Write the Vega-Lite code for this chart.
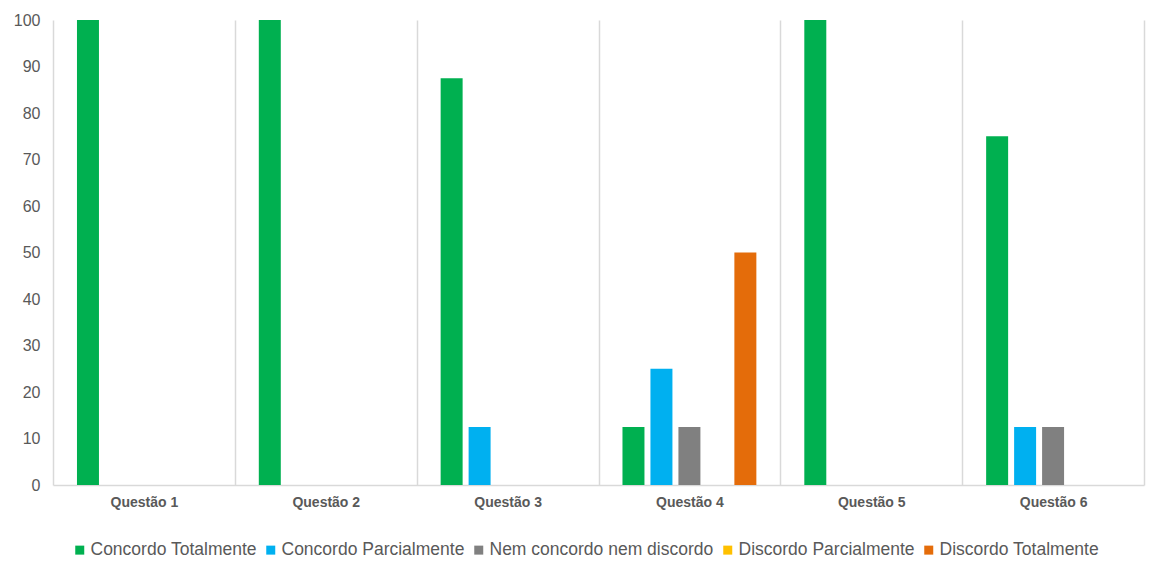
{
  "$schema": "https://vega.github.io/schema/vega-lite/v6.json",
  "autosize": {"type": "none"},
  "padding": {"left": 53, "top": 20, "right": 17, "bottom": 87},
  "width": 1091,
  "height": 465,
  "background": "white",
  "config": {
    "font": "Liberation Sans",
    "view": {"stroke": null}
  },
  "data": {
    "values": [
      {"q": "Questão 1", "s": "Concordo Totalmente", "v": 100},
      {"q": "Questão 1", "s": "Concordo Parcialmente", "v": 0},
      {"q": "Questão 1", "s": "Nem concordo nem discordo", "v": 0},
      {"q": "Questão 1", "s": "Discordo Parcialmente", "v": 0},
      {"q": "Questão 1", "s": "Discordo Totalmente", "v": 0},
      {"q": "Questão 2", "s": "Concordo Totalmente", "v": 100},
      {"q": "Questão 2", "s": "Concordo Parcialmente", "v": 0},
      {"q": "Questão 2", "s": "Nem concordo nem discordo", "v": 0},
      {"q": "Questão 2", "s": "Discordo Parcialmente", "v": 0},
      {"q": "Questão 2", "s": "Discordo Totalmente", "v": 0},
      {"q": "Questão 3", "s": "Concordo Totalmente", "v": 87.5},
      {"q": "Questão 3", "s": "Concordo Parcialmente", "v": 12.5},
      {"q": "Questão 3", "s": "Nem concordo nem discordo", "v": 0},
      {"q": "Questão 3", "s": "Discordo Parcialmente", "v": 0},
      {"q": "Questão 3", "s": "Discordo Totalmente", "v": 0},
      {"q": "Questão 4", "s": "Concordo Totalmente", "v": 12.5},
      {"q": "Questão 4", "s": "Concordo Parcialmente", "v": 25},
      {"q": "Questão 4", "s": "Nem concordo nem discordo", "v": 12.5},
      {"q": "Questão 4", "s": "Discordo Parcialmente", "v": 0},
      {"q": "Questão 4", "s": "Discordo Totalmente", "v": 50},
      {"q": "Questão 5", "s": "Concordo Totalmente", "v": 100},
      {"q": "Questão 5", "s": "Concordo Parcialmente", "v": 0},
      {"q": "Questão 5", "s": "Nem concordo nem discordo", "v": 0},
      {"q": "Questão 5", "s": "Discordo Parcialmente", "v": 0},
      {"q": "Questão 5", "s": "Discordo Totalmente", "v": 0},
      {"q": "Questão 6", "s": "Concordo Totalmente", "v": 75},
      {"q": "Questão 6", "s": "Concordo Parcialmente", "v": 12.5},
      {"q": "Questão 6", "s": "Nem concordo nem discordo", "v": 12.5},
      {"q": "Questão 6", "s": "Discordo Parcialmente", "v": 0},
      {"q": "Questão 6", "s": "Discordo Totalmente", "v": 0}
    ]
  },
  "mark": {"type": "bar"},
  "encoding": {
    "x": {
      "field": "q",
      "type": "nominal",
      "title": null,
      "scale": {"paddingInner": 0, "paddingOuter": 0},
      "axis": {
        "labelAngle": 0,
        "labelFont": "Liberation Sans",
        "labelFontSize": 14,
        "labelFontWeight": "bold",
        "labelColor": "#595959",
        "labelPadding": 10,
        "ticks": false,
        "tickBand": "extent",
        "grid": true,
        "gridColor": "#D9D9D9",
        "gridWidth": 1.5,
        "domainColor": "#D9D9D9",
        "domainWidth": 1.5
      }
    },
    "xOffset": {
      "field": "s",
      "type": "nominal",
      "sort": ["Concordo Totalmente", "Concordo Parcialmente", "Nem concordo nem discordo", "Discordo Parcialmente", "Discordo Totalmente"],
      "scale": {"paddingInner": 0.214, "paddingOuter": 0.857}
    },
    "y": {
      "field": "v",
      "type": "quantitative",
      "title": null,
      "scale": {"domain": [0, 100]},
      "axis": {
        "values": [0, 10, 20, 30, 40, 50, 60, 70, 80, 90, 100],
        "grid": false,
        "domain": false,
        "ticks": false,
        "labelFont": "Liberation Sans",
        "labelFontSize": 16,
        "labelColor": "#595959",
        "labelPadding": 13
      }
    },
    "color": {
      "field": "s",
      "type": "nominal",
      "title": null,
      "scale": {
        "domain": ["Concordo Totalmente", "Concordo Parcialmente", "Nem concordo nem discordo", "Discordo Parcialmente", "Discordo Totalmente"],
        "range": ["#00B050", "#00B0F0", "#808080", "#FFC000", "#E46C0A"]
      },
      "legend": {
        "orient": "none",
        "legendX": 18,
        "legendY": 521,
        "direction": "horizontal",
        "symbolType": "square",
        "symbolSize": 81,
        "symbolStrokeWidth": 0,
        "symbolOpacity": 1,
        "labelFont": "Liberation Sans",
        "labelFontSize": 17.5,
        "labelColor": "#595959",
        "labelOffset": 2,
        "columnPadding": 5,
        "labelLimit": 400
      }
    }
  }
}
